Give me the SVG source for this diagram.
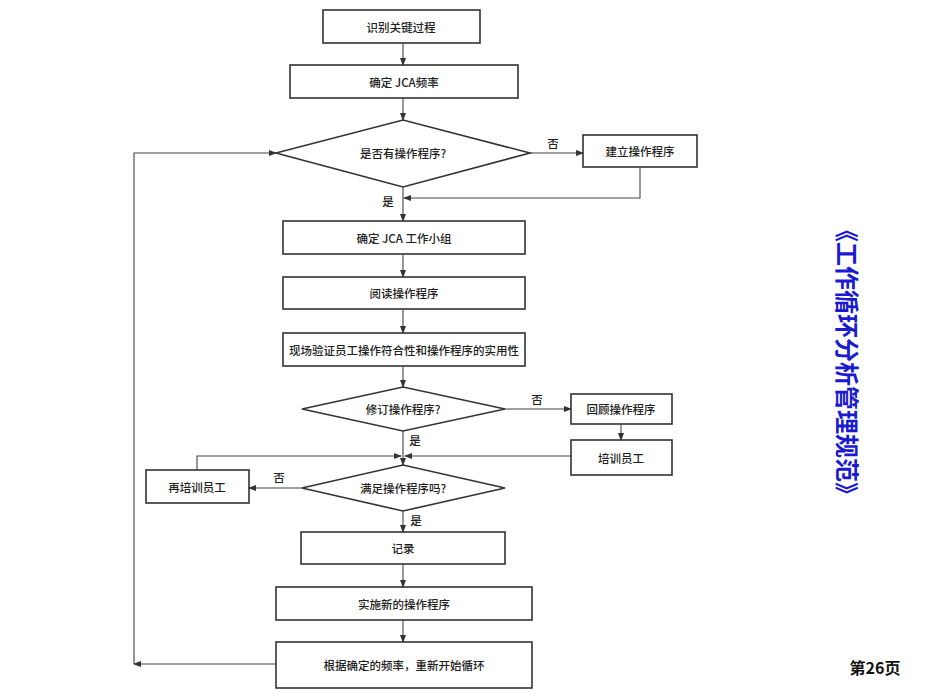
<svg xmlns="http://www.w3.org/2000/svg" width="926" height="699" viewBox="0 0 926 699">
<defs>
<marker id="ah" markerWidth="8" markerHeight="6" refX="7" refY="3" orient="auto" markerUnits="userSpaceOnUse">
<path d="M0,0 L8,3 L0,6 z" fill="#333"/>
</marker>
<style>
.b{fill:#fff;stroke:#333;stroke-width:1.6}
.t{font-family:"Noto Sans CJK SC","Noto Sans",sans-serif;font-size:11.5px;font-weight:500;fill:#222;text-anchor:middle;dominant-baseline:central}
.c{fill:none;stroke:#444;stroke-width:1.1}
.l{font-family:"Noto Sans CJK SC","Noto Sans",sans-serif;font-size:11.5px;font-weight:500;fill:#222;text-anchor:middle;dominant-baseline:central}
</style>
</defs>
<rect width="926" height="699" fill="#fff"/>
<g id="n1"><rect class="b" x="323" y="10" width="157" height="33"/><text class="t" x="401" y="27">识别关键过程</text></g>
<g id="n2"><rect class="b" x="290" y="65" width="228" height="33"/><text class="t" x="404" y="82">确定 JCA频率</text></g>
<g id="d1"><polygon class="b" points="276,153 403,120 530,153 403,187"/><text class="t" x="403" y="153">是否有操作程序?</text></g>
<g id="n3"><rect class="b" x="583" y="135" width="114" height="32"/><text class="t" x="640" y="151">建立操作程序</text></g>
<g id="n4"><rect class="b" x="283" y="221" width="242" height="33"/><text class="t" x="404" y="238">确定 JCA 工作小组</text></g>
<g id="n5"><rect class="b" x="283" y="277" width="242" height="32"/><text class="t" x="404" y="293">阅读操作程序</text></g>
<g id="n6"><rect class="b" x="283" y="333" width="242" height="33"/><text class="t" x="404" y="350">现场验证员工操作符合性和操作程序的实用性</text></g>
<g id="d2"><polygon class="b" points="302,409 403,387 505,409 403,431"/><text class="t" x="403" y="409">修订操作程序?</text></g>
<g id="n7"><rect class="b" x="571" y="394" width="101" height="30"/><text class="t" x="621" y="409">回顾操作程序</text></g>
<g id="n8"><rect class="b" x="571" y="440" width="101" height="35"/><text class="t" x="621" y="458">培训员工</text></g>
<g id="n9"><rect class="b" x="146" y="470" width="103" height="33"/><text class="t" x="197" y="487">再培训员工</text></g>
<g id="d3"><polygon class="b" points="302,488 403,465 505,488 403,511"/><text class="t" x="403" y="488">满足操作程序吗?</text></g>
<g id="n10"><rect class="b" x="301" y="532" width="204" height="32"/><text class="t" x="403" y="548">记录</text></g>
<g id="n11"><rect class="b" x="276" y="587" width="256" height="33"/><text class="t" x="404" y="604">实施新的操作程序</text></g>
<g id="n12"><rect class="b" x="276" y="642" width="256" height="46"/><text class="t" x="404" y="665">根据确定的频率，重新开始循环</text></g>
<g id="connectors">
<path class="c" d="M403,43 V65" marker-end="url(#ah)"/>
<path class="c" d="M403,98 V120" marker-end="url(#ah)"/>
<path class="c" d="M530,153 H583" marker-end="url(#ah)"/>
<path class="c" d="M640,167 V198 H404" marker-end="url(#ah)"/>
<path class="c" d="M403,187 V221" marker-end="url(#ah)"/>
<path class="c" d="M403,254 V277" marker-end="url(#ah)"/>
<path class="c" d="M403,309 V333" marker-end="url(#ah)"/>
<path class="c" d="M403,366 V387" marker-end="url(#ah)"/>
<path class="c" d="M505,409 H571" marker-end="url(#ah)"/>
<path class="c" d="M621,424 V440" marker-end="url(#ah)"/>
<path class="c" d="M403,431 V465" marker-end="url(#ah)"/>
<path class="c" d="M571,456 H405" marker-end="url(#ah)"/>
<path class="c" d="M197,470 V456 H401" marker-end="url(#ah)"/>
<path class="c" d="M302,488 H249" marker-end="url(#ah)"/>
<path class="c" d="M403,511 V532" marker-end="url(#ah)"/>
<path class="c" d="M403,564 V587" marker-end="url(#ah)"/>
<path class="c" d="M403,620 V642" marker-end="url(#ah)"/>
<path class="c" d="M276,664 H134" marker-end="url(#ah)"/>
<path class="c" d="M134,664 V153 H276" marker-end="url(#ah)"/>
<text class="l" x="553" y="143">否</text>
<text class="l" x="388" y="201">是</text>
<text class="l" x="537" y="399">否</text>
<text class="l" x="415" y="440">是</text>
<text class="l" x="279" y="477">否</text>
<text class="l" x="416" y="520">是</text>
</g>
<text transform="translate(848,362) rotate(90)" font-family="'Noto Sans CJK SC',sans-serif" font-size="24" font-weight="bold" fill="#1a1ad0" text-anchor="middle" dominant-baseline="central">《工作循环分析管理规范》</text>
<text x="875" y="667" font-family="'Noto Sans CJK SC',sans-serif" font-size="16" font-weight="bold" fill="#111" text-anchor="middle" dominant-baseline="central">第26页</text>
</svg>
